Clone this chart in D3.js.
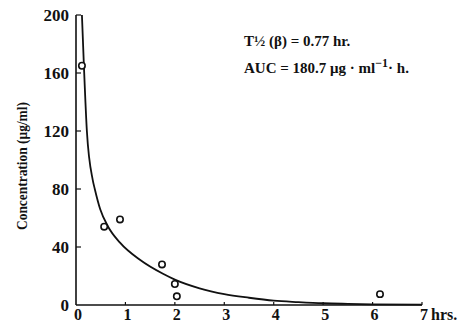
<!DOCTYPE html>
<html>
<head>
<meta charset="utf-8">
<script src="https://cdn.jsdelivr.net/npm/d3@7"></script>
<style>
  body { margin: 0; background: #fff; }
  svg { display: block; }
  text { font-family: 'Liberation Serif', 'DejaVu Serif', serif; font-weight: bold; fill: #111; }
</style>
</head>
<body>
<svg width="468" height="326"></svg>
<script>
// measured concentrations (hrs, ug/ml)
const obsTime = [0.12, 0.57, 0.89, 1.74, 2.0, 2.04, 6.15];
const obsConc = [165, 54, 59, 28, 14.5, 6, 7.5];

// fitted curve
const fitTime = [0.12, 0.16, 0.22, 0.34, 0.38, 0.49, 0.65, 0.89, 1.3, 1.76, 2.0, 2.5, 3.0, 3.5, 4.0, 4.5, 5.0, 5.5, 6.0, 7.0];
const fitConc = [200, 165, 120, 86, 80, 66, 54, 43, 31, 21.5, 17.5, 11.5, 7.5, 5, 3, 2, 1.2, 0.8, 0.5, 0.3];

const xTicks = [0, 1, 2, 3, 4, 5, 6, 7];
const yTicks = [0, 40, 80, 120, 160, 200];

const svg = d3.select('svg');
const x = d3.scaleLinear().domain([0, 7]).range([76, 422]);
const y = d3.scaleLinear().domain([0, 200]).range([305, 15]);

// axes
svg.append('line').attr('x1', x(0)).attr('x2', x(7)).attr('y1', y(0)).attr('y2', y(0))
  .attr('stroke', '#111').attr('stroke-width', 1.6);
svg.append('line').attr('x1', x(0)).attr('x2', x(0)).attr('y1', y(0)).attr('y2', y(200))
  .attr('stroke', '#111').attr('stroke-width', 1.6);

svg.selectAll('.xt').data(xTicks.slice(1)).join('line')
  .attr('x1', d => x(d)).attr('x2', d => x(d))
  .attr('y1', y(0)).attr('y2', y(0) - 3)
  .attr('stroke', '#111').attr('stroke-width', 1.2);
svg.selectAll('.xl').data(xTicks).join('text')
  .attr('x', d => x(d) + 2).attr('y', y(0) + 15)
  .attr('text-anchor', 'middle').attr('font-size', 16)
  .text(d => d);
svg.append('text').attr('x', x(7) + 9).attr('y', y(0) + 15)
  .attr('font-size', 16).text('hrs.');

svg.selectAll('.yt').data(yTicks.slice(1)).join('line')
  .attr('x1', x(0)).attr('x2', x(0) + 5)
  .attr('y1', d => y(d)).attr('y2', d => y(d))
  .attr('stroke', '#111').attr('stroke-width', 1.2);
svg.selectAll('.yl').data(yTicks).join('text')
  .attr('x', x(0) - 7).attr('y', d => y(d) + 6)
  .attr('text-anchor', 'end').attr('font-size', 17)
  .text(d => d);

svg.append('text')
  .attr('transform', `translate(27,166) rotate(-90)`)
  .attr('text-anchor', 'middle').attr('font-size', 15)
  .attr('textLength', 128).attr('lengthAdjust', 'spacingAndGlyphs')
  .text('Concentration (μg/ml)');

// fitted curve
const line = d3.line().x(d => x(d[0])).y(d => y(d[1])).curve(d3.curveMonotoneX);
svg.append('path').datum(d3.zip(fitTime, fitConc))
  .attr('d', line).attr('fill', 'none').attr('stroke', '#111').attr('stroke-width', 1.8);

// points
svg.selectAll('.pt').data(d3.zip(obsTime, obsConc)).join('circle')
  .attr('cx', d => x(d[0])).attr('cy', d => y(d[1])).attr('r', 3.2)
  .attr('fill', '#fff').attr('stroke', '#111').attr('stroke-width', 1.6);

// annotation
svg.append('text').attr('x', 244).attr('y', 46).attr('font-size', 15)
  .text('T½ (β) = 0.77 hr.');
const auc = svg.append('text').attr('x', 244).attr('y', 73).attr('font-size', 15);
auc.append('tspan').text('AUC = 180.7 μg · ml');
auc.append('tspan').attr('dy', -6).attr('font-size', 12).text('−1');
auc.append('tspan').attr('dy', 6).text('· h.');
</script>
</body>
</html>
